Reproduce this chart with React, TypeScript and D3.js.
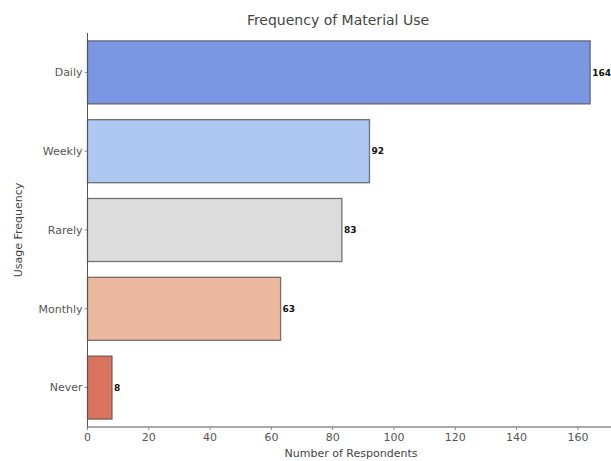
import React from "react";
import * as d3 from "d3";

const categories = ["Daily", "Weekly", "Rarely", "Monthly", "Never"];
const values = [164, 92, 83, 63, 8];
const colors = ["#7b96e2", "#afc8f3", "#dcdcdc", "#ecb8a0", "#d9735e"];
const xTicks = [0, 20, 40, 60, 80, 100, 120, 140, 160];

const W = 611;
const H = 461;
const left = 87.5;
const right = 611;
const top = 33;
const bottom = 427;

export default function App() {
  const x = d3.scaleLinear().domain([0, 170.8]).range([left, right]);
  const y = d3
    .scaleBand<string>()
    .domain(categories)
    .range([top, bottom])
    .paddingInner(0.2)
    .paddingOuter(0.1);
  const font = "'DejaVu Sans', sans-serif";
  return (
    <svg
      width={W}
      height={H}
      style={{ position: "absolute", left: 0, top: 0, background: "#fff" }}
      fontFamily={font}
    >
      <text x={338} y={25} textAnchor="middle" fontSize={14} fill="#444">
        Frequency of Material Use
      </text>
      {categories.map((c, i) => (
        <g key={c}>
          <rect
            x={x(0)}
            y={y(c)!}
            width={x(values[i]) - x(0)}
            height={y.bandwidth()}
            fill={colors[i]}
            stroke="#555"
            strokeOpacity={0.8}
            strokeWidth={1.3}
          />
          <text
            x={x(values[i]) + 2}
            y={y(c)! + y.bandwidth() / 2}
            dy="0.35em"
            fontSize={9}
            fontWeight="bold"
            fill="#111"
          >
            {values[i]}
          </text>
          <line
            x1={left - 3}
            x2={left}
            y1={y(c)! + y.bandwidth() / 2}
            y2={y(c)! + y.bandwidth() / 2}
            stroke="#888"
          />
          <text
            x={left - 5}
            y={y(c)! + y.bandwidth() / 2}
            dy="0.35em"
            textAnchor="end"
            fontSize={11}
            fill="#555"
          >
            {c}
          </text>
        </g>
      ))}
      <line x1={left} x2={left} y1={top} y2={bottom} stroke="#555" />
      <line x1={left} x2={right} y1={bottom} y2={bottom} stroke="#555" />
      {xTicks.map((t) => (
        <g key={t}>
          <line x1={x(t)} x2={x(t)} y1={bottom} y2={bottom + 3} stroke="#888" />
          <text x={x(t)} y={bottom + 14} textAnchor="middle" fontSize={11} fill="#555">
            {t}
          </text>
        </g>
      ))}
      <text x={351} y={457} textAnchor="middle" fontSize={11} fill="#444">
        Number of Respondents
      </text>
      <text
        transform={`translate(22,${(top + bottom) / 2}) rotate(-90)`}
        textAnchor="middle"
        fontSize={11}
        fill="#444"
      >
        Usage Frequency
      </text>
    </svg>
  );
}
